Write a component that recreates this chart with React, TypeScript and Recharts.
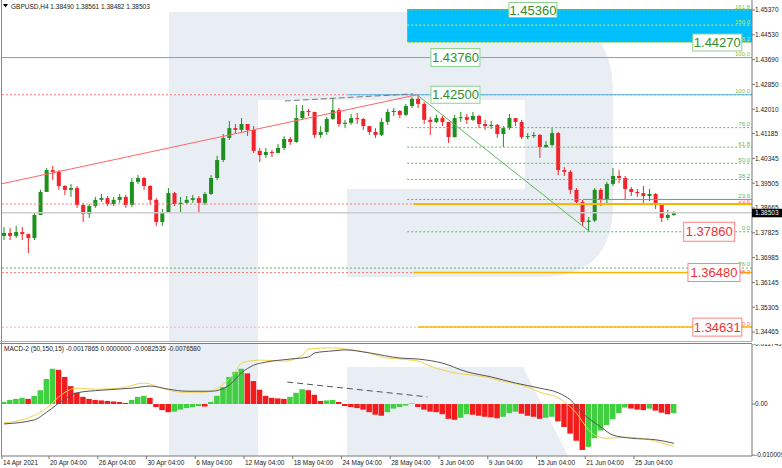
import React from "react";
import {
  ComposedChart,
  Bar,
  Line,
  XAxis,
  YAxis,
  ReferenceLine,
  ReferenceArea,
  ReferenceDot,
} from "recharts";

const FONT = "'Liberation Sans', Arial, sans-serif";
const GREEN = "#1f8f1f";
const RED = "#f2232a";

// GBPUSD H4, grouped three bars per candle (14 Apr - 28 Jun 2021)
const FIRST_OPEN = 1.3772;
const CLOSE = [
  1.3782, 1.3772, 1.3785, 1.3778, 1.3765, 1.3843, 1.3921, 1.3995, 1.3989, 1.3941,
  1.3928, 1.3934, 1.3877, 1.3846, 1.3873, 1.3894, 1.39, 1.388, 1.3894, 1.3904,
  1.3877, 1.3955, 1.3968, 1.3941, 1.3894, 1.3819, 1.3853, 1.3917, 1.388, 1.3884,
  1.3894, 1.39, 1.3884, 1.3914, 1.3968, 1.4029, 1.4104, 1.4137, 1.4131, 1.4151,
  1.4131, 1.406, 1.4046, 1.4056, 1.4053, 1.407, 1.41, 1.409, 1.4171, 1.4195,
  1.4192, 1.4114, 1.4124, 1.4168, 1.4198, 1.4151, 1.4155, 1.4171, 1.4168, 1.4144,
  1.4124, 1.4114, 1.4158, 1.4192, 1.4195, 1.4182, 1.4212, 1.4236, 1.4219, 1.4165,
  1.4158, 1.4171, 1.4158, 1.4107, 1.4171, 1.4174, 1.4165, 1.4178, 1.4151, 1.4144,
  1.4148, 1.4117, 1.4137, 1.4171, 1.4158, 1.4107, 1.411, 1.4114, 1.4073, 1.408,
  1.412, 1.3995, 1.3989, 1.3928, 1.3887, 1.3819, 1.3824, 1.3928, 1.3894, 1.3948,
  1.3975, 1.3968, 1.3931, 1.3921, 1.3917, 1.3907, 1.3914, 1.3877, 1.3833, 1.3843,
  1.385,
];
const HIGH = [
  1.3802, 1.3799, 1.3806, 1.3802, 1.3779, 1.3853, 1.3928, 1.4002, 1.4009, 1.3995,
  1.3944, 1.3948, 1.3941, 1.3884, 1.388, 1.3904, 1.3914, 1.3907, 1.3904, 1.3914,
  1.3911, 1.3968, 1.3978, 1.3972, 1.3944, 1.39, 1.3863, 1.3934, 1.3921, 1.3904,
  1.3907, 1.3911, 1.3907, 1.3921, 1.3978, 1.4043, 1.4117, 1.4161, 1.4151, 1.4171,
  1.4151, 1.4144, 1.407, 1.407, 1.4063, 1.4083, 1.411, 1.4107, 1.4215, 1.4215,
  1.4202, 1.4192, 1.4144, 1.4175, 1.4239, 1.4205, 1.4165, 1.4185, 1.4188, 1.4171,
  1.4144, 1.4137, 1.4171, 1.4202, 1.4205, 1.4198, 1.4219, 1.4242, 1.425, 1.4226,
  1.4175, 1.4182, 1.4178, 1.4158, 1.4182, 1.4192, 1.4185, 1.4192, 1.4182, 1.4165,
  1.4161, 1.4151, 1.4144, 1.4185, 1.4171, 1.4165, 1.412, 1.4124, 1.4117, 1.4093,
  1.4137, 1.4124, 1.4005, 1.3995, 1.3934, 1.3894, 1.3836, 1.3934, 1.3934, 1.3955,
  1.4002, 1.3995, 1.3975, 1.3938, 1.3931, 1.3941, 1.3931, 1.3917, 1.388, 1.386,
  1.3856,
];
const LOW = [
  1.3758, 1.3758, 1.3765, 1.3758, 1.3714, 1.3758, 1.3843, 1.3921, 1.3961, 1.3928,
  1.3911, 1.3904, 1.3867, 1.3819, 1.3833, 1.3867, 1.3887, 1.3873, 1.3873, 1.3884,
  1.3867, 1.387, 1.3948, 1.3928, 1.3877, 1.3806, 1.3806, 1.385, 1.3873, 1.3853,
  1.388, 1.3884, 1.3853, 1.3877, 1.3911, 1.3961, 1.4022, 1.4097, 1.4117, 1.4124,
  1.411, 1.4053, 1.4022, 1.4036, 1.4039, 1.4053, 1.4063, 1.408, 1.4087, 1.4165,
  1.4178, 1.4104, 1.4104, 1.4114, 1.4165, 1.4141, 1.4137, 1.4148, 1.4151, 1.4131,
  1.4114, 1.4104, 1.411, 1.4148, 1.4178, 1.4171, 1.4178, 1.4205, 1.4205, 1.4151,
  1.4114, 1.4154, 1.4144, 1.4087, 1.4104, 1.4158, 1.4151, 1.4161, 1.4137, 1.4131,
  1.4134, 1.4104, 1.4073, 1.4131, 1.4144, 1.41, 1.41, 1.4104, 1.4036, 1.407,
  1.4076, 1.3978, 1.3975, 1.3914, 1.3877, 1.3806, 1.3786, 1.3819, 1.3873, 1.3877,
  1.3941, 1.3951, 1.3894, 1.3907, 1.3904, 1.3884, 1.389, 1.3863, 1.3819, 1.3826,
  1.384,
];

// MACD-2 (50,150,15) histogram, one value per candle
const HIST = [
  0.0004, 0.0008, 0.001, 0.0012, 0.001, 0.0016, 0.0027, 0.0049, 0.0069, 0.0067,
  0.0053, 0.0035, 0.0022, 0.0014, 0.001, 0.0008, 0.0007, 0.0006, 0.0005, 0.0004,
  0.0002, 0.0008, 0.0014, 0.0016, 0.0012, -0.0006, -0.0012, -0.0016, -0.0015, -0.0011,
  -0.0008, -0.0006, -0.0004, -0.0005, 0.0004, 0.0016, 0.0033, 0.0053, 0.0063, 0.0069,
  0.006, 0.0045, 0.0028, 0.0016, 0.0012, 0.0011, 0.001, 0.0014, 0.0022, 0.0029,
  0.0027, 0.0018, 0.0006, 0.0007, 0.0008, 0.0004, -0.0004, -0.0006, -0.0008, -0.0011,
  -0.0016, -0.0021, -0.0023, -0.0016, -0.0009, -0.0006, -0.0003, 0.0001, -0.0006, -0.0011,
  -0.0015, -0.0016, -0.002, -0.0029, -0.0031, -0.0027, -0.002, -0.0021, -0.0023, -0.0025,
  -0.0026, -0.0028, -0.0025, -0.0018, -0.0015, -0.0019, -0.0023, -0.0025, -0.0029, -0.0027,
  -0.0025, -0.0034, -0.0045, -0.0058, -0.0072, -0.009, -0.0084, -0.0067, -0.0052, -0.0041,
  -0.003, -0.0018, -0.0007, -0.0009, -0.0011, -0.0012, -0.0009, -0.0013, -0.0017, -0.002,
  -0.0018,
];
// [candle, value]
const MACD_PTS: [number, number][] = [
  [0, -0.0039], [5, -0.0031], [7, -0.0016], [10, 0.001], [12, 0.0022], [16, 0.0027],
  [21, 0.0031], [24, 0.0035], [27, 0.0029], [30, 0.0025], [34, 0.0025], [37, 0.0037],
  [39, 0.0061], [41, 0.0076], [43, 0.0082], [47, 0.0088], [50, 0.0092], [51, 0.01],
  [54, 0.0104], [56, 0.0106], [60, 0.01], [65, 0.009], [68, 0.0088], [72, 0.008],
  [76, 0.0063], [80, 0.0053], [84, 0.0041], [88, 0.0031], [91, 0.0022], [93, 0.0008],
  [95, -0.0018], [98, -0.0045], [100, -0.0061], [103, -0.0067], [107, -0.007], [110, -0.0077],
];
const SIGNAL_PTS: [number, number][] = [
  [0, -0.0037], [4, -0.0027], [7, -0.0008], [9, 0.0014], [11, 0.0029], [12, 0.0031],
  [15, 0.0029], [19, 0.0031], [23, 0.0041], [26, 0.0031], [29, 0.0023], [33, 0.0023],
  [35, 0.0031], [38, 0.0063], [39, 0.008], [42, 0.0086], [46, 0.0084], [49, 0.0096],
  [50, 0.0108], [54, 0.011], [57, 0.0106], [60, 0.01], [62, 0.0092], [65, 0.0088],
  [68, 0.0084], [70, 0.0074], [74, 0.0061], [79, 0.0053], [81, 0.0047], [86, 0.0033],
  [88, 0.0023], [91, 0.0012], [94, -0.0018], [96, -0.0051], [97, -0.0061], [99, -0.0067],
  [102, -0.0065], [106, -0.007], [108, -0.0076], [110, -0.0083],
];

const PRICE_TICKS = [
  1.4537, 1.4453, 1.4369, 1.4285, 1.4201, 1.41185, 1.40345, 1.39505, 1.38665,
  1.37825, 1.36985, 1.36145, 1.35305, 1.34465,
];
const MACD_TICKS = [0.011749, 0, -0.010009];
const TIME_LABELS = [
  "14 Apr 2021", "20 Apr 04:00", "26 Apr 04:00", "30 Apr 04:00", "6 May 04:00",
  "12 May 04:00", "18 May 04:00", "24 May 04:00", "28 May 04:00", "3 Jun 04:00",
  "9 Jun 04:00", "15 Jun 04:00", "21 Jun 04:00", "25 Jun 04:00",
];
const TIME_POS = [-0.34, 7.38, 15.39, 23.39, 31.4, 39.4, 47.41, 55.41, 63.42, 71.42, 79.43, 87.43, 95.44, 103.44];

// fibonacci retracement 1.4250 -> 1.3786 and expansion levels
const FIB_PRICES = [1.41386, 1.40727, 1.4018, 1.39632, 1.38955, 1.3786];
const FIB_NAMES = ["76.0", "61.8", "50.0", "38.2", "23.6", "0.0"];
const EXT_PRICES = [1.4537, 1.4486, 1.4427, 1.4376, 1.425];
const EXT_NAMES = ["161.8", "150.0", "138.2", "100.0", "100.0"];

const X0 = -0.5;
const X1 = 122.82;
const P_MIN = 1.34161;
const P_MAX = 1.45709;
const M_MIN = -0.010182;
const M_MAX = 0.011749;

const candles = CLOSE.map((c, i) => ({
  i,
  open: i === 0 ? FIRST_OPEN : CLOSE[i - 1],
  close: c,
  high: HIGH[i],
  low: LOW[i],
}));

const macdRows = HIST.map((h, i) => {
  const m = MACD_PTS.find((p) => p[0] === i);
  const s = SIGNAL_PTS.find((p) => p[0] === i);
  return {
    i,
    h,
    up: i === 0 || h >= HIST[i - 1],
    macd: m ? m[1] : null,
    sig: s ? s[1] : null,
  };
});

function Candle(props: any) {
  const { x, y, width, height, payload } = props;
  if (!payload) return null;
  const { open, close, high, low } = payload;
  const color = close >= open ? GREEN : RED;
  const k = height / (high - low);
  const yo = y + (high - open) * k;
  const yc = y + (high - close) * k;
  const cx = x + width / 2;
  return (
    <g>
      <line x1={cx} x2={cx} y1={y} y2={y + height} stroke={color} strokeWidth={1} />
      <rect x={x} y={Math.min(yo, yc)} width={width} height={Math.max(1, Math.abs(yo - yc))} fill={color} />
    </g>
  );
}

function HistBar(props: any) {
  const { x, y, width, height, payload } = props;
  if (!payload) return null;
  const top = height < 0 ? y + height : y;
  return (
    <rect x={x} y={top} width={width} height={Math.abs(height)} fill={payload.up ? "#3fcf3f" : "#f21c1c"} />
  );
}

const tag = (text: string, color: string, dy = -1.5) => (p: any) => (
  <text x={p.cx - 2} y={p.cy + dy} textAnchor="end" fontSize={6} fill={color} fontFamily={FONT}>
    {text}
  </text>
);

const box = (text: string, color: string, border: string, w = 49, h = 17) => (p: any) => (
  <g>
    <rect x={p.cx} y={p.cy - h / 2} width={w} height={h} fill="#fff" stroke={border} strokeWidth={1} />
    <text x={p.cx + w / 2} y={p.cy + 4.6} textAnchor="middle" fontSize={13} fill={color} fontFamily={FONT}>
      {text}
    </text>
  </g>
);

const priceBox = (p: any) => (
  <g>
    <rect x={p.cx} y={p.cy - 4} width={30} height={8.5} fill="#000" />
    <text x={p.cx + 3} y={p.cy + 2.4} fontSize={6.5} fill="#fff" fontFamily={FONT}>
      1.38503
    </text>
  </g>
);

function TimeTick(props: any) {
  const { x, y, payload } = props;
  const idx = TIME_POS.indexOf(payload.value);
  return (
    <text x={x + 1} y={y + 5.5} fontSize={6.5} fill="#222" fontFamily={FONT}>
      {TIME_LABELS[idx]}
    </text>
  );
}

const seg = (from: number, price: number) => [
  { x: from, y: price },
  { x: X1, y: price },
];

export default function App() {
  const axisTick = { fontSize: 6.5, fill: "#222", fontFamily: FONT };
  return (
    <div
      style={{
        position: "fixed",
        left: 0,
        top: 0,
        width: 782,
        height: 468,
        background: "#fff",
        overflow: "hidden",
      }}
    >
      {/* watermark */}
      <svg width={782} height={468} style={{ position: "absolute", left: 0, top: 0 }}>
        <g fill="#e9eef5">
          <rect x={169} y={12} width={89} height={329} />
          <path d="M258 12 L535 12 Q613 12 613 95 L613 205 Q613 277 540 277 L347 277 L347 189 L525 189 L525 100 L258 100 Z" />
          <rect x={169} y={344} width={89} height={112} />
          <path d="M347 367 L523 367 L568 456 L347 456 Z" />
        </g>
      </svg>

      <div style={{ position: "absolute", left: 0, top: 0 }}>
        <ComposedChart width={782} height={341} data={candles} margin={{ top: 0, right: 0, bottom: 0, left: 1 }}>
          <XAxis type="number" dataKey="i" domain={[X0, X1]} hide allowDataOverflow />
          <YAxis
            orientation="right"
            width={30}
            domain={[P_MIN, P_MAX]}
            ticks={PRICE_TICKS}
            interval={0}
            tickSize={3}
            tickMargin={0}
            tick={axisTick}
            tickFormatter={(v: number) => v.toFixed(5)}
            stroke="#777"
            allowDataOverflow
          />
          <ReferenceArea x1={66.2} x2={X1} y1={1.4427} y2={1.454} fill="#00bfff" fillOpacity={1} stroke="none" ifOverflow="visible" />

          <ReferenceLine y={1.38503} stroke="#cdcdcd" strokeWidth={1.5} />
          <ReferenceLine y={1.4376} stroke="#4db6e6" />
          <ReferenceLine y={1.425} stroke="#ff7b7b" strokeDasharray="2 2" />
          <ReferenceLine y={1.388} stroke="#ff7b7b" strokeDasharray="2 2" />
          <ReferenceLine y={1.3663} stroke="#5cb85c" strokeDasharray="2 2" />
          <ReferenceLine y={1.3648} stroke="#ff7b7b" strokeDasharray="2 2" />
          <ReferenceLine y={1.34631} stroke="#ffaaaa" strokeDasharray="2 2" />
          <ReferenceLine segment={seg(56.5, 1.425)} stroke="#4db6e6" ifOverflow="visible" />
          <ReferenceLine segment={seg(95.1, 1.38955)} stroke="#3aa6e0" ifOverflow="visible" />
          {FIB_PRICES.map((p) => (
            <ReferenceLine key={"f" + p} segment={seg(66.2, p)} stroke="#5cb85c" strokeDasharray="2 2" ifOverflow="visible" />
          ))}
          <ReferenceLine segment={seg(66.2, 1.4537)} stroke="#8cc34a" strokeDasharray="2 2" ifOverflow="visible" />
          <ReferenceLine segment={seg(66.2, 1.4486)} stroke="#e3e64a" strokeDasharray="2 2" ifOverflow="visible" />
          <ReferenceLine segment={seg(66.2, 1.4427)} stroke="#e3e64a" strokeDasharray="2 2" ifOverflow="visible" />
          <ReferenceLine segment={seg(67.2, 1.388)} stroke="#ffb300" strokeWidth={2} ifOverflow="visible" />
          <ReferenceLine segment={seg(67.2, 1.3648)} stroke="#ffb300" strokeWidth={1.5} ifOverflow="visible" />
          <ReferenceLine segment={seg(68, 1.34631)} stroke="#ffb300" strokeWidth={1.5} ifOverflow="visible" />

          <ReferenceLine segment={[{ x: X0, y: 1.3948 }, { x: 67.8, y: 1.425 }]} stroke="#ff6666" ifOverflow="visible" />
          <ReferenceLine segment={[{ x: 46.1, y: 1.4229 }, { x: 67.2, y: 1.4253 }]} stroke="#777" strokeDasharray="6 3" ifOverflow="visible" />
          <ReferenceLine segment={[{ x: 67.8, y: 1.425 }, { x: 96.2, y: 1.3786 }]} stroke="#5cb85c" ifOverflow="visible" />

          <Bar dataKey={(d: any) => [d.low, d.high]} barSize={4} shape={(p: any) => <Candle {...p} />} isAnimationActive={false} />

          {FIB_PRICES.map((p, k) => (
            <ReferenceDot key={"ft" + p} x={X1} y={p} r={0} shape={tag(FIB_NAMES[k], "#5cb85c")} ifOverflow="visible" />
          ))}
          {EXT_PRICES.map((p, k) => (
            <ReferenceDot key={"et" + p} x={X1} y={p} r={0} shape={tag(EXT_NAMES[k], k === 1 || k === 2 ? "#d8e04a" : "#7cbf4a")} ifOverflow="visible" />
          ))}
          <ReferenceDot x={X1} y={1.3663} r={0} shape={tag("76.0", "#5cb85c", -2.5)} ifOverflow="visible" />
          <ReferenceDot x={X1} y={1.388} r={0} shape={tag("23.6", "#ff6b6b")} ifOverflow="visible" />
          <ReferenceDot x={X1} y={1.3648} r={0} shape={tag("88.2", "#ff6b6b", 1)} ifOverflow="visible" />
          <ReferenceDot x={X1} y={1.34631} r={0} shape={tag("0.0", "#ff6b6b")} ifOverflow="visible" />

          <ReferenceDot x={82.9} y={1.4537} r={0} shape={box("1.45360", "#2f8f2f", "#8fcf8f", 48, 15)} ifOverflow="visible" />
          <ReferenceDot x={70.1} y={1.4376} r={0} shape={box("1.43760", "#2f8f2f", "#8fcf8f", 49, 18)} ifOverflow="visible" />
          <ReferenceDot x={70.1} y={1.425} r={0} shape={box("1.42500", "#2f8f2f", "#8fcf8f")} ifOverflow="visible" />
          <ReferenceDot x={113.1} y={1.4427} r={0} shape={box("1.44270", "#2f8f2f", "#8fcf8f")} ifOverflow="visible" />
          <ReferenceDot x={111.6} y={1.3786} r={0} shape={box("1.37860", "#f23030", "#ff8080", 51, 19)} ifOverflow="visible" />
          <ReferenceDot x={112.3} y={1.3648} r={0} shape={box("1.36480", "#f23030", "#ff8080", 52, 18)} ifOverflow="visible" />
          <ReferenceDot x={113.1} y={1.34631} r={0} shape={box("1.34631", "#f23030", "#ff8080", 49, 18)} ifOverflow="visible" />
          <ReferenceDot x={X1} y={1.38503} r={0} shape={priceBox} ifOverflow="visible" />
        </ComposedChart>
      </div>

      <div style={{ position: "absolute", left: 0, top: 344 }}>
        <ComposedChart width={782} height={124} data={macdRows} margin={{ top: 0, right: 0, bottom: 0, left: 1 }}>
          <XAxis
            type="number"
            dataKey="i"
            domain={[X0, X1]}
            ticks={TIME_POS}
            interval={0}
            tickSize={3}
            tickMargin={0}
            height={12}
            tick={<TimeTick />}
            stroke="#777"
            allowDataOverflow
          />
          <YAxis
            orientation="right"
            width={30}
            domain={[M_MIN, M_MAX]}
            ticks={MACD_TICKS}
            interval={0}
            tickSize={3}
            tickMargin={0}
            tick={axisTick}
            tickFormatter={(v: number) => (v === 0 ? "0.00" : v.toFixed(6))}
            stroke="#777"
            allowDataOverflow
          />
          <Bar dataKey="h" barSize={5.5} shape={(p: any) => <HistBar {...p} />} isAnimationActive={false} />
          <Line type="monotone" dataKey="sig" stroke="#f2d24b" strokeWidth={1} dot={false} connectNulls isAnimationActive={false} />
          <Line type="monotone" dataKey="macd" stroke="#555" strokeWidth={1} dot={false} connectNulls isAnimationActive={false} />
          <ReferenceLine segment={[{ x: 46.5, y: 0.0043 }, { x: 69.5, y: 0.0014 }]} stroke="#555" strokeDasharray="6 4" ifOverflow="visible" />
        </ComposedChart>
      </div>

      {/* window frame and titles */}
      <svg width={782} height={468} style={{ position: "absolute", left: 0, top: 0, pointerEvents: "none" }}>
        <line x1={1.5} x2={1.5} y1={0} y2={456} stroke="#888" />
        <line x1={0} x2={752} y1={341.5} y2={341.5} stroke="#b0b0b0" />
        <line x1={0} x2={752} y1={343.5} y2={343.5} stroke="#808080" strokeWidth={1.2} />
        <polygon points="3,4 8,4 5.5,7.5" fill="#000" />
        <text x={11} y={8.6} fontSize={6.5} fill="#222" fontFamily={FONT}>
          GBPUSD,H4  1.38490 1.38561 1.38482 1.38503
        </text>
        <text x={4} y={350.5} fontSize={6.5} fill="#222" fontFamily={FONT}>
          MACD-2 (50,150,15) -0.0017865 0.0000000 -0.0082535 -0.0076580
        </text>
      </svg>
    </div>
  );
}
